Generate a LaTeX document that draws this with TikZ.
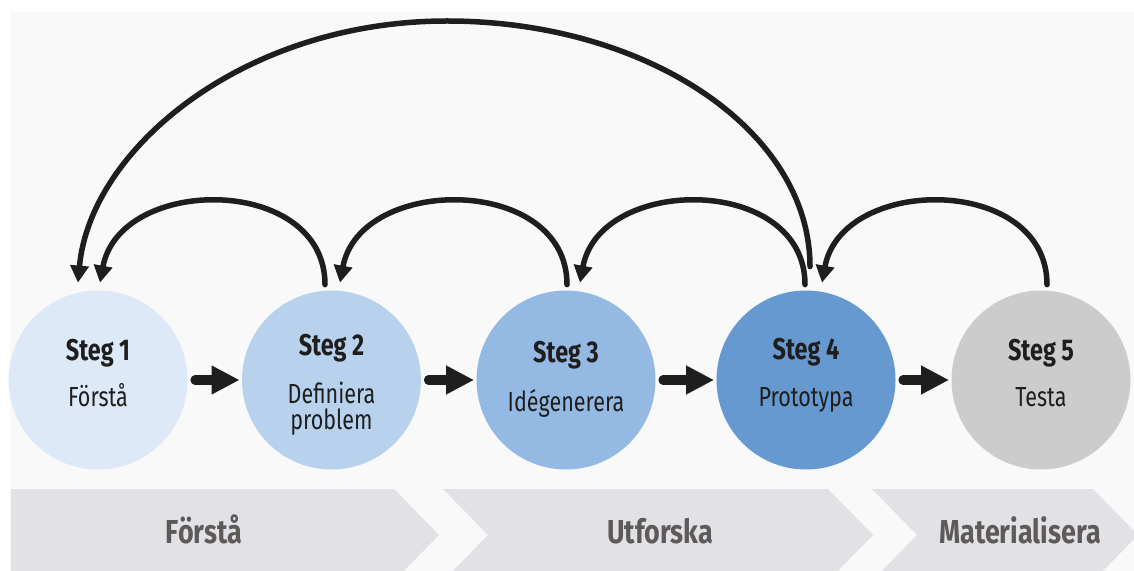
\documentclass[tikz,border=0pt]{standalone}
\usepackage{fontspec}
\setmainfont[FakeStretch=0.78]{Fira Sans}
\newfontfamily\phasefont[FakeStretch=0.81]{Fira Sans}
\usetikzlibrary{arrows.meta,calc}
\definecolor{bgpanel}{HTML}{F9F9F9}
\definecolor{bandgray}{HTML}{E1E1E6}
\definecolor{phaseink}{HTML}{5E5A5A}
\definecolor{ink}{HTML}{1E1E1E}
\definecolor{stepA}{HTML}{DEE9F7}
\definecolor{stepB}{HTML}{B8D2EE}
\definecolor{stepC}{HTML}{94BAE4}
\definecolor{stepD}{HTML}{6699CF}
\definecolor{stepE}{HTML}{CCCCCC}
\begin{document}
\begin{tikzpicture}[x=0.5pt,y=-0.5pt, line join=round, line cap=round,
    stepcircle/.style={circle, inner sep=0pt, minimum size=89.5pt},
    stegtitle/.style={anchor=base, text=ink, font=\fontsize{15}{18}\selectfont\bfseries},
    stegtext/.style={anchor=base, text=ink, font=\fontsize{13.8}{16}\selectfont},
    backarc/.style={draw=ink, line width=2.75pt, -{Triangle[length=8.5pt,width=9pt,sharp]}},
    fwdarrow/.style={draw=ink, line width=4.5pt, -{Triangle[length=14pt,width=13.5pt,sharp]}, shorten <=3.5pt, shorten >=1pt},
    phase/.style={fill=bandgray},
    phasetext/.style={anchor=base, text=phaseink, font=\phasefont\fontsize{16.6}{19}\selectfont\bfseries}]
    \useasboundingbox (0,0) rectangle (1134,571);
    \fill[bgpanel] (10,12) rectangle (1134,571);
    % faser
    \fill[phase] (11,489) -- (394,489) -- (439,535) -- (394,581) -- (11,581) -- cycle;
    \fill[phase] (443,489) -- (828,489) -- (873,535) -- (828,581) -- (443,581) -- (488,535) -- cycle;
    \fill[phase] (872,489) -- (1093,489) -- (1138,535) -- (1093,581) -- (872,581) -- (917,535) -- cycle;
    \node[phasetext] (ph1) at (204,543) {Förstå};
    \node[phasetext] (ph2) at (660,543) {Utforska};
    \node[phasetext] (ph3) at (1020,543) {Materialisera};
    % steg
    \foreach \i/\x/\c in {1/98/stepA, 2/331.5/stepB, 3/566/stepC, 4/806/stepD, 5/1041/stepE}
        \node[stepcircle, fill=\c] (s\i) at (\x,380) {};
    \node[stegtitle] (h1) at ($(s1)+(0,-20)$) {Steg 1};
    \node[stegtext] (t1) at ($(s1)+(0,27)$) {Förstå};
    \node[stegtitle] (h2) at ($(s2)+(0,-24)$) {Steg 2};
    \node[stegtext] (t2) at ($(s2)+(0,23)$) {Definiera};
    \node[stegtext] (t2b) at ($(s2)+(0,49)$) {problem};
    \node[stegtitle] (h3) at ($(s3)+(0,-17)$) {Steg 3};
    \node[stegtext] (t3) at ($(s3)+(0,31)$) {Idégenerera};
    \node[stegtitle] (h4) at ($(s4)+(0,-21)$) {Steg 4};
    \node[stegtext] (t4) at ($(s4)+(0,26)$) {Prototypa};
    \node[stegtitle] (h5) at ($(s5)+(0,-20)$) {Steg 5};
    \node[stegtext] (t5) at ($(s5)+(0,27)$) {Testa};
    \foreach \a/\b in {1/2, 2/3, 3/4, 4/5}
        \draw[fwdarrow] (s\a) -- (s\b);
    % tillbaka
    \coordinate (a1) at ($(s2.north)+(-6.5,-5.5)$);
    \coordinate (b1) at ($(s1.north)+(2,-7.5)$);
    \coordinate (a2) at ($(s3.north)+(1,-5.5)$);
    \coordinate (b2) at ($(s2.north)+(8.5,-7.5)$);
    \coordinate (a3) at ($(s4.north)+(-1,-5.5)$);
    \coordinate (b3) at ($(s3.north)+(14,-7.5)$);
    \coordinate (a4) at ($(s5.north)+(6,-5.5)$);
    \coordinate (b4) at ($(s4.north)+(16,-7.5)$);
    \foreach \i in {1,...,4}
        \draw[backarc] (a\i) .. controls +(0,-110) and +(20,-108) .. (b\i);
    \coordinate (big0) at ($(s4.north)+(4,-23.5)$);
    \coordinate (bigtop) at (447,21);
    \coordinate (big1) at ($(s1.north)+(-20,-7.5)$);
    \draw[backarc] (big0) .. controls +(0,-136) and +(200,0) .. (bigtop)
        .. controls +(-204,0) and +(12,-133) .. (big1);
\end{tikzpicture}
\end{document}
